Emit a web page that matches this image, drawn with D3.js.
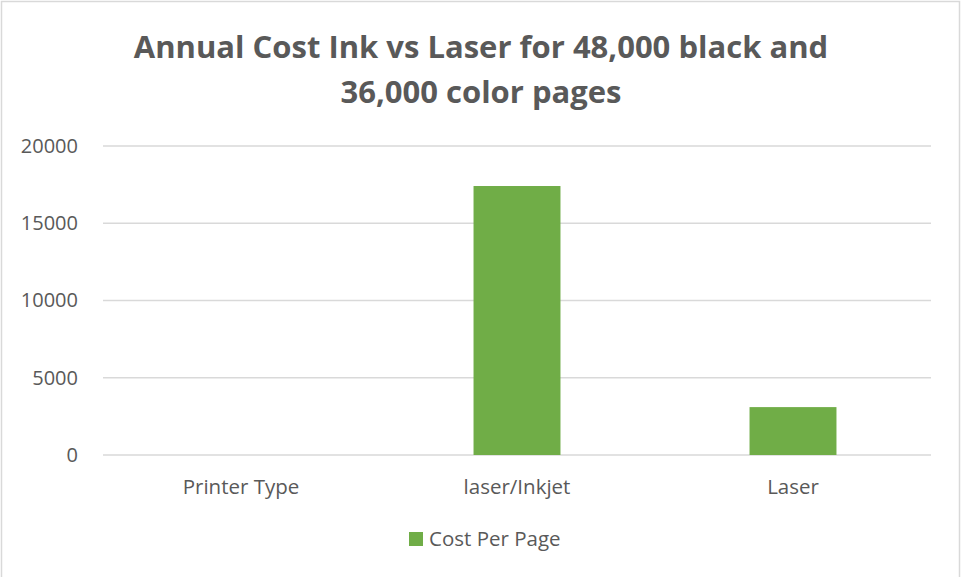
<!DOCTYPE html>
<html>
<head>
<meta charset="utf-8">
<script src="https://cdn.jsdelivr.net/npm/d3@7"></script>
<style>
  body { margin: 0; background: #fff; }
  text { font-family: "Open Sans", sans-serif; fill: #595959; }
</style>
</head>
<body>
<div id="chart"></div>
<script>
// values
const categories = ["Printer Type", "laser/Inkjet", "Laser"];
const costPerPage = [0, 17410, 3100];
const yTicks = [0, 5000, 10000, 15000, 20000];
const seriesName = "Cost Per Page";
const titleLines = ["Annual Cost Ink vs Laser for 48,000 black and", "36,000 color pages"];

let W = 961, H = 577;
let margin = { top: 146, right: 30, bottom: 122, left: 103 };
let width = W - margin.left - margin.right;
let height = H - margin.top - margin.bottom;

let svg = d3.select("#chart")
    .append("svg")
    .attr("width", W)
    .attr("height", H);

svg.append("rect")
    .attr("x", 1.5)
    .attr("y", 1.5)
    .attr("width", W - 3)
    .attr("height", H + 10)
    .attr("fill", "#fff")
    .attr("stroke", "#d9d9d9")
    .attr("stroke-width", 1.5);

svg.selectAll(".title")
    .data(titleLines)
    .enter()
    .append("text")
    .attr("class", "title")
    .attr("x", 481)
    .attr("y", function(d, i) { return 58 + i * 45; })
    .attr("text-anchor", "middle")
    .style("font-size", "31px")
    .style("font-weight", "bold")
    .text(function(d) { return d; });

let g = svg.append("g")
    .attr("transform", "translate(" + margin.left + "," + margin.top + ")");

let x = d3.scaleBand()
    .domain(categories)
    .range([0, width])
    .paddingInner(0.685)
    .paddingOuter(0.3425);

let y = d3.scaleLinear()
    .domain([0, 20000])
    .range([height, 0]);

// gridlines
g.selectAll(".grid")
    .data(yTicks)
    .enter()
    .append("line")
    .attr("x1", 0)
    .attr("x2", width)
    .attr("y1", function(d) { return y(d); })
    .attr("y2", function(d) { return y(d); })
    .attr("stroke", "#d9d9d9")
    .attr("stroke-width", 1.3);

let yAxis = g.append("g")
    .call(d3.axisLeft(y).tickValues(yTicks).tickSize(0).tickPadding(25).tickFormat(d3.format("d")));
yAxis.select(".domain").remove();
yAxis.selectAll("text")
    .style("font-size", "20px")
    .attr("fill", "#595959");

let band = d3.scaleBand().domain(categories).range([0, width]);
let xAxis = g.append("g")
    .attr("transform", "translate(0," + height + ")")
    .call(d3.axisBottom(band).tickSize(0).tickPadding(24));
xAxis.select(".domain").remove();
xAxis.selectAll("text")
    .style("font-size", "20.5px")
    .attr("fill", "#595959");

g.selectAll(".bar")
    .data(costPerPage)
    .enter()
    .append("rect")
    .attr("class", "bar")
    .attr("x", function(d, i) { return x(categories[i]); })
    .attr("y", function(d) { return y(d); })
    .attr("width", x.bandwidth())
    .attr("height", function(d) { return height - y(d); })
    .attr("fill", "#70ad47");

// legend
let legend = svg.append("g")
    .attr("transform", "translate(409,532)");
legend.append("rect")
    .attr("width", 14)
    .attr("height", 14)
    .attr("fill", "#70ad47");
legend.append("text")
    .attr("x", 20)
    .attr("y", 14)
    .style("font-size", "20.5px")
    .text(seriesName);
</script>
</body>
</html>
